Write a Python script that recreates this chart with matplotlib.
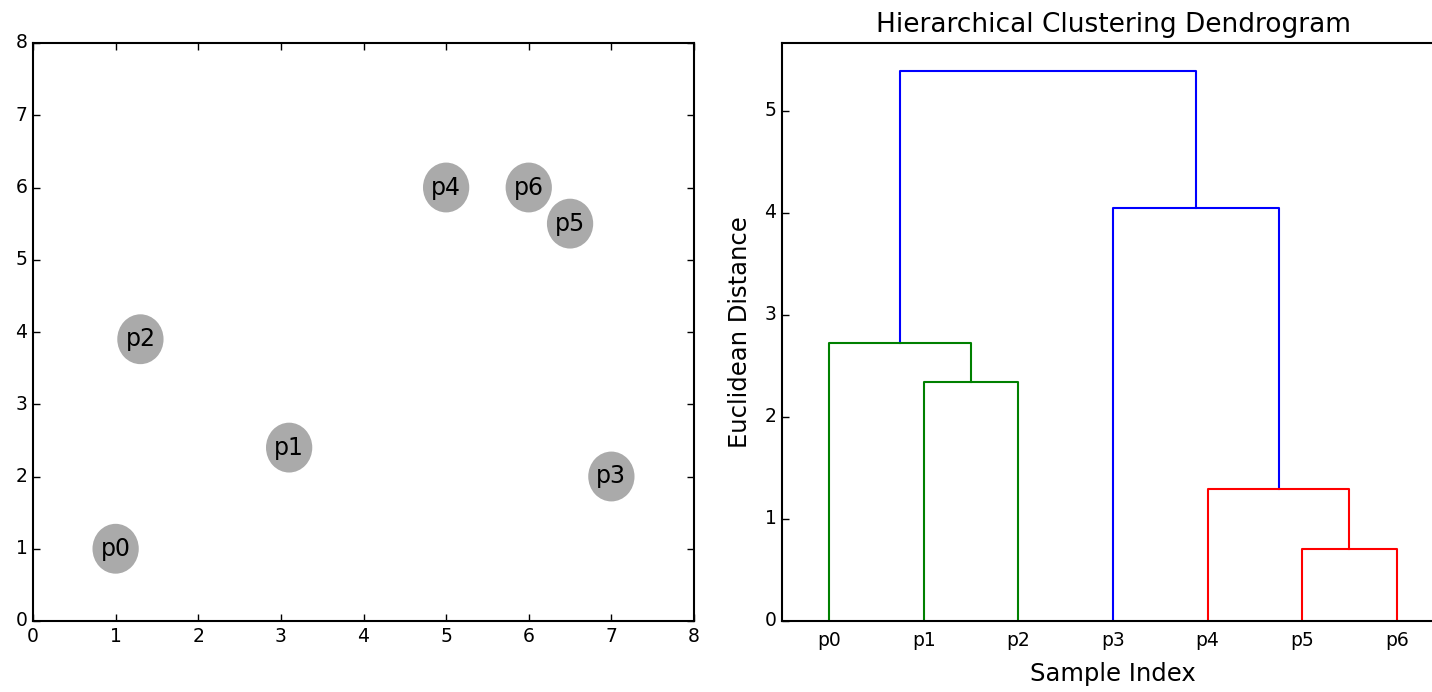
import numpy as np
import matplotlib
matplotlib.use("Agg")
import matplotlib.pyplot as plt
from matplotlib.patches import Ellipse

plt.style.use("classic")
plt.rcParams["font.family"] = ["DejaVu Sans"]
plt.rcParams["axes.linewidth"] = 1.5

# sample points
labels = ["p0", "p1", "p2", "p3", "p4", "p5", "p6"]
xs = [1.0, 3.1, 1.3, 7.0, 5.0, 6.5, 6.0]
ys = [1.0, 2.4, 3.9, 2.0, 6.0, 5.5, 6.0]


def average_linkage(pts):
    # plain average linkage, rows like scipy: [a, b, dist, n]
    n = len(pts)
    d = np.sqrt(((pts[:, None, :] - pts[None, :, :]) ** 2).sum(-1))
    members = {i: [i] for i in range(n)}
    Z = []
    nxt = n
    while len(members) > 1:
        keys = sorted(members)
        best = None
        for i, a in enumerate(keys):
            for b in keys[i + 1:]:
                v = d[np.ix_(members[a], members[b])].mean()
                if best is None or v < best[2]:
                    best = (a, b, v)
        a, b, v = best
        members[nxt] = members.pop(a) + members.pop(b)
        Z.append([a, b, v, len(members[nxt])])
        nxt += 1
    return np.array(Z)


pts = np.column_stack([xs, ys])
Z = average_linkage(pts)
n = len(labels)
thresh = 0.7 * Z[:, 2].max()
palette = ["g", "r", "c", "m", "y", "k"]

fig = plt.figure(figsize=(14.32, 6.92), dpi=100, facecolor="white")

# left: scatter with labelled blobs
ax1 = fig.add_axes([33 / 1432, 71 / 692, 661 / 1432, 578 / 692])
for lab, x, y in zip(labels, xs, ys):
    ax1.add_patch(Ellipse((x, y), 0.56, 0.69, facecolor="#aaaaaa",
                          edgecolor="none", zorder=2))
    ax1.text(x, y, lab, ha="center", va="center", fontsize=17, zorder=3)
ax1.set_xlim(0, 8)
ax1.set_ylim(0, 8)
ax1.tick_params(labelsize=13.5, length=5, width=1)

# right: dendrogram drawn by hand
ax2 = fig.add_axes([782 / 1432, 71 / 692, 662 / 1432, 578 / 692])

pos = {}
height = {}
order = []
ci = [0]


def layout(node):
    if node < n:
        order.append(node)
        pos[node] = 5 + 10 * (len(order) - 1)
        height[node] = 0.0
        return
    a, b, h, _ = Z[node - n]
    a, b = int(a), int(b)
    layout(a)
    layout(b)
    pos[node] = (pos[a] + pos[b]) / 2
    height[node] = h


root = 2 * n - 2
layout(root)


def paint(node, col=None):
    if node < n:
        return
    a, b, h, _ = Z[node - n]
    a, b = int(a), int(b)
    if col is None and h < thresh:
        col = palette[ci[0] % len(palette)]
        ci[0] += 1
    c = col if col is not None else "b"
    ax2.plot([pos[a], pos[a], pos[b], pos[b]],
             [height[a], h, h, height[b]], color=c, lw=1.5)
    paint(a, col)
    paint(b, col)


paint(root)

ax2.set_xlim(0, 10 * n)
ax2.set_ylim(0, Z[:, 2].max() * 1.05)
ax2.set_xticks([5 + 10 * i for i in range(n)])
ax2.set_xticklabels([labels[i] for i in order])
ax2.tick_params(axis="x", bottom=False, top=False, labelsize=13.5, pad=7)
ax2.tick_params(axis="y", left=True, right=False, labelsize=13.5, length=5,
                width=1)
ax2.set_yticks([0, 1, 2, 3, 4, 5])
ax2.set_title("Hierarchical Clustering Dendrogram", fontsize=19, pad=8)
ax2.set_xlabel("Sample Index", fontsize=17.5, labelpad=9)
ax2.set_ylabel("Euclidean Distance", fontsize=17.5, labelpad=9)

fig.savefig("out.png", dpi=100, facecolor="white")
